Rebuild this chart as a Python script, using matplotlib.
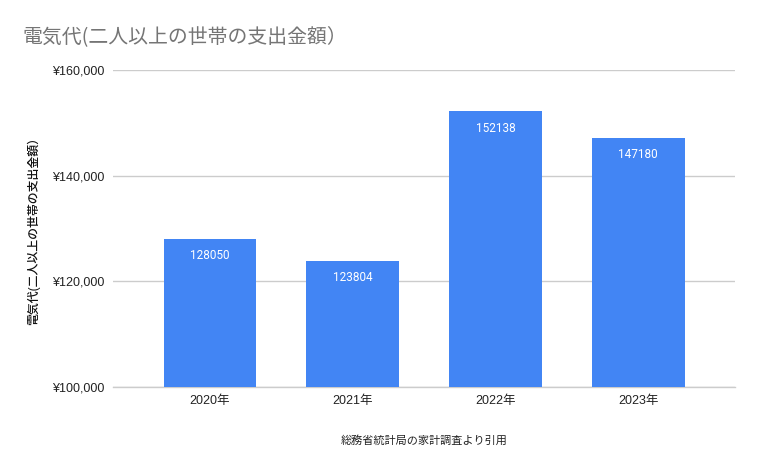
import matplotlib.pyplot as plt
from matplotlib.ticker import FuncFormatter

plt.rcParams['font.family'] = ['Liberation Sans', 'Noto Sans CJK JP', 'DejaVu Sans']

# データ
years = ["2020年", "2021年", "2022年", "2023年"]
costs = [128050, 123804, 152138, 147180]
yticks = [100000, 120000, 140000, 160000]

title = "電気代(二人以上の世帯の支出金額）"
ylabel = "電気代(二人以上の世帯の支出金額）"
xlabel = "総務省統計局の家計調査より引用"

bar_color = "#4285F4"

fig = plt.figure(figsize=(7.58, 4.69), dpi=100)
ax = fig.add_axes([0.149, 0.175, 0.821, 0.676])

x = list(range(len(years)))
bars = ax.bar(x, costs, width=0.65, color=bar_color, zorder=3)

for xi, v in zip(x, costs):
    ax.annotate(str(v), xy=(xi, v), xytext=(0, -12), textcoords="offset points",
                ha="center", va="center", color="white", fontsize=8.5,
                family=["Roboto", "DejaVu Sans"], zorder=4)

ax.set_ylim(100000, 160000)
ax.set_xlim(-0.68, 3.68)
ax.set_yticks(yticks)
ax.yaxis.set_major_formatter(FuncFormatter(lambda v, p: f"¥{int(v):,}"))
ax.set_xticks(x)
ax.set_xticklabels(years)
ax.grid(axis="y", color="#cccccc", linewidth=1, zorder=0)
# 基準線
ax.axhline(yticks[0], color="#cccccc", linewidth=1, zorder=2, clip_on=False)
for s in ax.spines.values():
    s.set_visible(False)
ax.tick_params(axis="both", length=0, labelsize=9, colors="#222222")
ax.tick_params(axis="y", pad=6)
ax.tick_params(axis="x", pad=6)

ax.set_xlabel(xlabel, fontsize=8, color="#222222", labelpad=20)
ax.set_ylabel(ylabel, fontsize=8.6, color="#111111", labelpad=9,
              fontweight="medium")

fig.text(22 / 758, 1 - 37 / 469, title, fontsize=14.3, color="#757575",
         ha="left", va="center", family=["Noto Sans CJK JP", "DejaVu Sans"])

fig.savefig("out.png", dpi=100)
